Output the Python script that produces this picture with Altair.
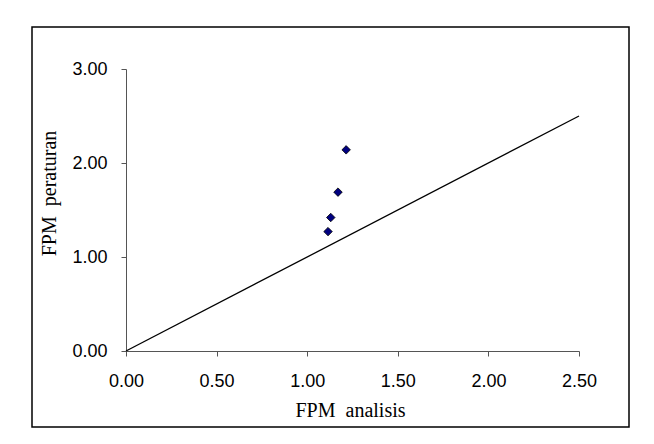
import altair as alt
import pandas as pd

# data
fpm_analisis = [1.115, 1.13, 1.17, 1.215]
fpm_peraturan = [1.27, 1.42, 1.69, 2.14]
line_x = [0.0, 2.5]
line_y = [0.0, 2.5]
x_ticks = [0.0, 0.5, 1.0, 1.5, 2.0, 2.5]
y_ticks = [0.0, 1.0, 2.0, 3.0]

pts = pd.DataFrame({"a": fpm_analisis, "p": fpm_peraturan})
ln = pd.DataFrame({"a": line_x, "p": line_y})

xscale = alt.Scale(domain=[0, 2.5], nice=False, zero=True)
yscale = alt.Scale(domain=[0, 3], nice=False, zero=True)

xaxis = alt.Axis(
    values=x_ticks, format=".2f", grid=False, labelFlush=False,
    labelOverlap=False,
    title="FPM\u00a0\u00a0analisis",
    labelFont="Liberation Sans", labelFontSize=18, labelColor="#000000",
    labelPadding=16, tickSize=5, domainColor="#555555", tickColor="#555555",
    titleFont="Liberation Serif", titleFontSize=20, titleFontWeight="normal",
    titleColor="#000000", titleX=224, titleY=59, titleBaseline="middle",
    titleAnchor="start", titleAlign="center",
)
yaxis = alt.Axis(
    values=y_ticks, format=".2f", grid=False, labelFlush=False,
    labelOverlap=False,
    title="FPM\u00a0\u00a0peraturan",
    labelFont="Liberation Sans", labelFontSize=18, labelColor="#000000",
    labelPadding=14, tickSize=5, domainColor="#555555", tickColor="#555555",
    titleFont="Liberation Serif", titleFontSize=20, titleFontWeight="normal",
    titleColor="#000000", titleX=-77, titleY=124, titleAngle=270,
    titleBaseline="middle", titleAlign="center",
)

line = alt.Chart(ln).mark_line(color="#000000", strokeWidth=1.3).encode(
    x=alt.X("a:Q", scale=xscale, axis=xaxis),
    y=alt.Y("p:Q", scale=yscale, axis=yaxis),
)

points = alt.Chart(pts).mark_point(
    shape="diamond", filled=True, fill="#000080", stroke="#000000",
    strokeWidth=0.8, size=72, opacity=1,
).encode(
    x=alt.X("a:Q", scale=xscale),
    y=alt.Y("p:Q", scale=yscale),
)

border = alt.Chart(pd.DataFrame({"k": [0]})).mark_rect(
    fill=None, stroke="#000000", strokeWidth=1.5
).encode(
    x=alt.value(-94), x2=alt.value(503), y=alt.value(-42), y2=alt.value(358)
)

chart = alt.layer(border, line, points).properties(
    width=453, height=282,
    autosize=alt.AutoSizeParams(type="none"),
    padding={"left": 126, "top": 69, "right": 75, "bottom": 93},
    background="#ffffff",
).configure_view(stroke=None)

chart.save("out.html", embed_options={"renderer": "svg", "actions": False})
